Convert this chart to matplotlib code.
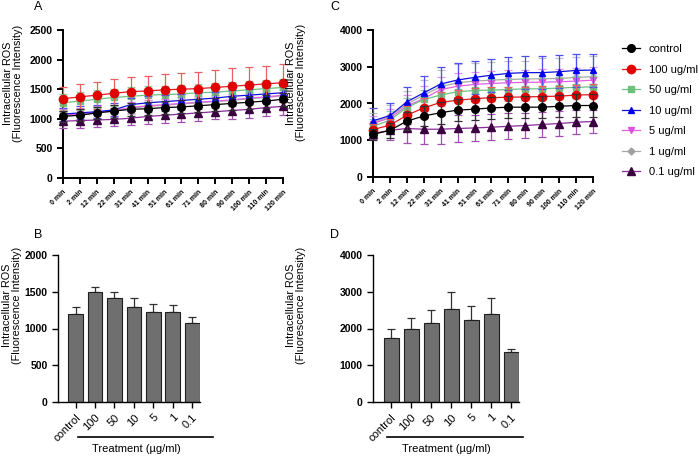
import matplotlib
matplotlib.use("Agg")
import matplotlib.pyplot as plt
import numpy as np
from matplotlib.lines import Line2D

plt.rcParams['font.family'] = ['Liberation Sans', 'DejaVu Sans']

time_labels = ["0 min", "2 min", "12 min", "22 min", "31 min", "41 min", "51 min",
               "61 min", "71 min", "80 min", "90 min", "100 min", "110 min", "120 min"]
series_names = ["control", "100 ug/ml", "50 ug/ml", "10 ug/ml", "5 ug/ml", "1 ug/ml", "0.1 ug/ml"]

# Panel A means / SD
A_control = [1040, 1060, 1100, 1130, 1160, 1170, 1190, 1200, 1220, 1240, 1260, 1280, 1300, 1330]
A_100 = [1340, 1370, 1400, 1430, 1460, 1470, 1490, 1500, 1510, 1530, 1550, 1570, 1590, 1610]
A_50 = [1270, 1300, 1330, 1360, 1380, 1400, 1410, 1420, 1440, 1450, 1470, 1490, 1510, 1530]
A_10 = [1080, 1100, 1120, 1150, 1240, 1270, 1290, 1310, 1330, 1350, 1380, 1400, 1420, 1440]
A_5 = [1060, 1080, 1110, 1140, 1190, 1220, 1240, 1260, 1280, 1300, 1320, 1350, 1370, 1400]
A_1 = [1050, 1070, 1100, 1130, 1180, 1210, 1230, 1250, 1270, 1290, 1310, 1340, 1360, 1390]
A_01 = [960, 970, 980, 990, 1010, 1040, 1060, 1080, 1100, 1120, 1140, 1160, 1190, 1210]
A_err_control = [100, 100, 100, 110, 110, 110, 110, 110, 110, 110, 110, 110, 110, 110]
A_err_100 = [200, 210, 230, 240, 250, 260, 270, 270, 280, 290, 300, 300, 310, 320]
A_err_50 = [150, 150, 150, 150, 150, 150, 150, 150, 150, 150, 150, 150, 150, 150]
A_err_10 = [110, 110, 110, 110, 110, 110, 110, 110, 110, 110, 110, 110, 110, 110]
A_err_5 = [100, 100, 100, 100, 100, 100, 100, 100, 100, 100, 100, 100, 100, 100]
A_err_1 = [100, 100, 100, 100, 100, 100, 100, 100, 100, 100, 100, 100, 100, 100]
A_err_01 = [120, 120, 120, 120, 120, 120, 130, 130, 130, 130, 140, 140, 150, 150]

# Panel C means / SD
C_control = [1160, 1270, 1520, 1660, 1750, 1820, 1845, 1880, 1900, 1900, 1900, 1925, 1945, 1945]
C_100 = [1290, 1410, 1680, 1880, 2030, 2090, 2130, 2160, 2170, 2180, 2190, 2200, 2230, 2240]
C_50 = [1380, 1545, 1890, 2110, 2230, 2320, 2355, 2365, 2380, 2400, 2400, 2420, 2440, 2455]
C_10 = [1530, 1670, 2045, 2290, 2530, 2640, 2710, 2770, 2820, 2840, 2840, 2865, 2900, 2910]
C_5 = [1455, 1610, 1930, 2135, 2380, 2470, 2520, 2545, 2565, 2575, 2580, 2590, 2610, 2635]
C_1 = [1480, 1655, 1980, 2230, 2455, 2565, 2610, 2635, 2655, 2665, 2675, 2680, 2710, 2730]
C_01 = [1180, 1270, 1320, 1300, 1300, 1320, 1335, 1355, 1380, 1400, 1430, 1455, 1490, 1510]
C_err_control = [150, 200, 250, 280, 300, 300, 300, 300, 300, 300, 300, 300, 300, 300]
C_err_100 = [150, 180, 250, 280, 280, 280, 280, 280, 280, 280, 280, 280, 280, 280]
C_err_50 = [200, 250, 250, 250, 300, 300, 300, 300, 300, 300, 300, 300, 300, 300]
C_err_10 = [350, 350, 400, 450, 450, 450, 450, 450, 450, 450, 450, 450, 450, 450]
C_err_5 = [200, 250, 300, 350, 350, 350, 350, 350, 350, 350, 350, 350, 350, 350]
C_err_1 = [250, 300, 350, 400, 450, 500, 500, 500, 500, 500, 550, 550, 550, 550]
C_err_01 = [150, 250, 400, 400, 400, 380, 350, 350, 350, 350, 350, 350, 330, 310]

# Bar panels
bar_labels = ["control", "100", "50", "10", "5", "1", "0.1"]
B_values = [1200, 1490, 1410, 1290, 1225, 1220, 1070]
B_err = [90, 80, 90, 130, 115, 95, 80]
D_values = [1730, 1975, 2140, 2520, 2230, 2385, 1350]
D_err = [260, 310, 350, 470, 390, 440, 90]

styles = [
    dict(color='black', mfc='black', mec='black', marker='o', ms=5.5, ecolor='#303030', z=9),
    dict(color='#e31a1c', mfc='#e00000', mec='#e00000', marker='o', ms=6, ecolor='#e86060', z=8),
    dict(color='#70c080', mfc='#6cc07c', mec='#6cc07c', marker='s', ms=5, ecolor='#90d0a0', z=6),
    dict(color='#1010e0', mfc='#0000ee', mec='#0000ee', marker='^', ms=5, ecolor='#5050f0', z=7),
    dict(color='#e060e0', mfc='#e050e0', mec='#e050e0', marker='v', ms=5, ecolor='#e890e8', z=5),
    dict(color='#a8a8a8', mfc='#a0a0a0', mec='#a0a0a0', marker='D', ms=3.5, ecolor='#c0c0c0', z=4),
    dict(color='#8a2a9a', mfc='#3a0040', mec='#3a0040', marker='^', ms=5.5, ecolor='#a050b0', z=8),
]

fig = plt.figure(figsize=(6.99, 4.58), dpi=100)
W, H = 699, 458

def ax_px(l, r, t, b):
    return fig.add_axes([l / W, 1 - b / H, (r - l) / W, (b - t) / H])

def style_axes(ax, lw=1.4):
    for s in ['top', 'right']:
        ax.spines[s].set_visible(False)
    for s in ['left', 'bottom']:
        ax.spines[s].set_linewidth(lw)
    ax.tick_params(axis='both', width=lw, length=4, direction='out')

def ylab(ax, xc, yc):
    ax.set_ylabel("Intracellular ROS\n(Fluorescence Intensity)", fontsize=7.8, linespacing=0.95)
    ax.yaxis.set_label_coords(xc, yc)

def line_panel(ax, data, errs, ymax, ystep, xc):
    x = np.arange(len(time_labels))
    for d, e, st in zip(data, errs, styles):
        ax.errorbar(x, d, yerr=e, color=st['color'], ecolor=st['ecolor'], elinewidth=0.9,
                    capsize=3, capthick=0.9, lw=0.9, marker=st['marker'], ms=st['ms'],
                    mfc=st['mfc'], mec=st['mec'], zorder=st['z'], clip_on=False)
    ax.set_xlim(0, len(time_labels) - 1)
    ax.set_ylim(0, ymax)
    ax.set_yticks(np.arange(0, ymax + 1, ystep))
    ax.set_xticks(x)
    ax.set_xticklabels(time_labels, rotation=45, ha='right', rotation_mode='anchor',
                       fontsize=5, fontweight='bold')
    for lab in ax.get_yticklabels():
        lab.set_fontweight('bold')
        lab.set_fontsize(7.5)
    style_axes(ax, 1.4)
    ylab(ax, xc, 0.64)

def bar_panel(ax, vals, err, ymax, ystep, line_x, text_x, xc):
    x = np.arange(len(bar_labels))
    ax.bar(x, vals, width=0.75, color='#6f6f6f', edgecolor='#202020', linewidth=0.8, zorder=2)
    ax.errorbar(x, vals, yerr=[np.zeros(len(vals)), err], fmt='none', ecolor='#303030',
                elinewidth=0.9, capsize=3, capthick=0.9, zorder=1)
    ax.set_xlim(-0.9, 6.4)
    ax.set_ylim(0, ymax)
    ax.set_yticks(np.arange(0, ymax + 1, ystep))
    ax.set_xticks(x)
    ax.set_xticklabels(bar_labels, rotation=45, ha='right', rotation_mode='anchor', fontsize=8)
    for lab in ax.get_yticklabels():
        lab.set_fontweight('bold')
        lab.set_fontsize(7.5)
    style_axes(ax, 1.0)
    ylab(ax, xc, 0.66)
    ax.plot(line_x, [-0.238, -0.238], transform=ax.transAxes, color='black', lw=1.2,
            clip_on=False)
    ax.text(text_x, -0.32, "Treatment (µg/ml)", transform=ax.transAxes, ha='center',
            va='center', fontsize=8)

axA = ax_px(63, 283, 30, 178)
line_panel(axA, [A_control, A_100, A_50, A_10, A_5, A_1, A_01],
           [A_err_control, A_err_100, A_err_50, A_err_10, A_err_5, A_err_1, A_err_01],
           2500, 500, (23 - 63) / 220)

axC = ax_px(373, 593, 30, 177)
line_panel(axC, [C_control, C_100, C_50, C_10, C_5, C_1, C_01],
           [C_err_control, C_err_100, C_err_50, C_err_10, C_err_5, C_err_1, C_err_01],
           4000, 1000, (306 - 373) / 220)

axB = ax_px(58, 200, 255, 402)
bar_panel(axB, B_values, B_err, 2000, 500, [0.14, 1.09], 0.55, (22 - 58) / 142)

axD = ax_px(373, 519, 255, 402)
bar_panel(axD, D_values, D_err, 4000, 1000, [0.096, 1.03], 0.5, (306 - 373) / 146)

# Legend
handles = [Line2D([0], [0], color=st['color'], lw=0.9, marker=st['marker'], ms=st['ms'],
                  mfc=st['mfc'], mec=st['mec']) for st in styles]
fig.legend(handles, series_names, loc='upper left', bbox_to_anchor=(612 / W, 1 - 34 / H),
           frameon=False, fontsize=8, handlelength=1.6, labelspacing=0.95, handletextpad=0.8)

for lbl, (px, py) in zip("ACBD", [(34, 7), (330, 7), (34, 235), (330, 235)]):
    fig.text(px / W, 1 - py / H, lbl, fontsize=9, ha='left', va='center')

fig.savefig("out.png", dpi=100)
